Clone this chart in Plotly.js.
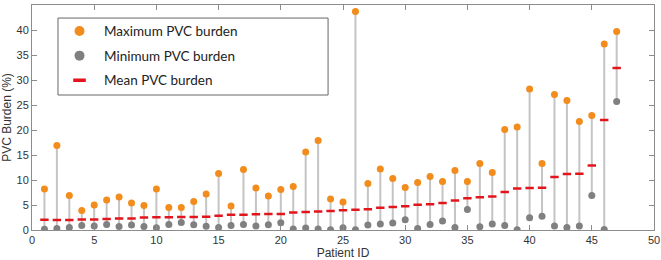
<!DOCTYPE html>
<html>
<head>
<meta charset="utf-8">
<script src="https://cdn.plot.ly/plotly-3.0.1.min.js"></script>
<style>html,body{margin:0;padding:0;background:#fff;}#chart{width:661px;height:260px;}</style>
</head>
<body>
<div id="chart"></div>
<script>
const patientIds = [1,2,3,4,5,6,7,8,9,10,11,12,13,14,15,16,17,18,19,20,21,22,23,24,25,26,27,28,29,30,31,32,33,34,35,36,37,38,39,40,41,42,43,44,45,46,47];
const maxBurden = [8.2,16.9,6.9,3.9,5.0,6.0,6.6,5.4,4.9,8.2, 4.5,4.5,5.7,7.2,11.3,4.8,12.1,8.4,6.8,8.1, 8.7,15.6,17.9,6.2,5.6,43.7,9.3,12.2,10.3,8.5, 9.5,10.7,9.7,11.9,9.7,13.3,11.5,20.1,20.6,28.2, 13.3,27.1,25.9,21.7,22.9,37.2,39.7];
const minBurden = [0.15,0.3,0.5,0.9,0.8,1.1,0.7,1.0,0.7,0.45, 1.1,1.5,1.05,0.75,0.5,0.9,1.1,0.8,1.05,1.45, 0.2,0.4,0.2,0.05,0.45,0.05,1.0,1.2,1.4,2.05, 0.3,1.1,1.8,0.5,4.1,0.65,1.2,0.9,0.05,2.45, 2.75,0.8,0.5,0.8,6.9,0.1,25.7];
const meanBurden = [2.05,2.0,2.0,2.1,2.1,2.2,2.3,2.3,2.5,2.55, 2.55,2.6,2.6,2.65,2.85,3.05,3.05,3.15,3.2,3.2, 3.5,3.6,3.7,3.8,3.95,4.05,4.15,4.45,4.6,4.75, 5.05,5.15,5.4,5.9,6.35,6.55,6.7,7.6,8.3,8.4, 8.45,10.6,11.2,11.25,12.9,22.0,32.4];
const seriesNames = ['Maximum PVC burden','Minimum PVC burden','Mean PVC burden'];

const stemX = [], stemY = [];
patientIds.forEach((id, i) => { stemX.push(id, id, null); stemY.push(minBurden[i], maxBurden[i], null); });

const orange = '#f28c1c', gray = '#808080', red = '#e3141b';
const traces = [
  {x: stemX, y: stemY, mode: 'lines', line: {color: '#c4c4c4', width: 2}, showlegend: false, hoverinfo: 'skip'},
  {x: patientIds, y: maxBurden, mode: 'markers', marker: {color: orange, size: 7}, showlegend: false},
  {x: patientIds, y: minBurden, mode: 'markers', marker: {color: gray, size: 7}, showlegend: false},
  {x: patientIds, y: meanBurden, mode: 'markers', marker: {symbol: 'line-ew', size: 6, color: red, line: {color: red, width: 2.5}}, showlegend: false},
  {x: [null], y: [null], mode: 'markers', name: seriesNames[0], legendgroup: 'a', marker: {color: orange, size: 10}},
  {x: [null], y: [null], mode: 'markers', name: seriesNames[1], legendgroup: 'b', marker: {color: gray, size: 10}},
  {x: [null], y: [null], mode: 'markers', name: seriesNames[2], legendgroup: 'c', marker: {symbol: 'line-ew', size: 9, color: red, line: {color: red, width: 3.5}}}
];

const axisCommon = {showline: true, mirror: 'ticks', linecolor: '#8c8c8c', linewidth: 1, ticks: 'inside', ticklen: 5, tickcolor: '#8c8c8c', showgrid: false, zeroline: false, tickfont: {family: 'Liberation Sans, Arial, sans-serif', size: 11, color: '#333'}};
const layout = {
  width: 661, height: 260,
  margin: {l: 32, r: 7, t: 5, b: 30},
  paper_bgcolor: '#fff', plot_bgcolor: '#fff',
  xaxis: Object.assign({}, axisCommon, {range: [0, 50], dtick: 5, tick0: 0, title: {text: 'Patient ID', standoff: 4, font: {family: 'Liberation Sans, Arial, sans-serif', size: 12, color: '#333'}}}),
  yaxis: Object.assign({}, axisCommon, {range: [0, 45], dtick: 5, tick0: 0, title: {text: 'PVC Burden (%)', standoff: 4, font: {family: 'Liberation Sans, Arial, sans-serif', size: 12, color: '#333'}}}),
  legend: {x: 0.037, y: 0.952, xanchor: 'left', yanchor: 'top', bgcolor: 'rgba(0,0,0,0)', borderwidth: 0, traceorder: 'grouped', tracegroupgap: 4, itemwidth: 39, font: {family: 'Lato, sans-serif', size: 13.5, color: '#222'}},
  shapes: [{type: 'rect', xref: 'paper', yref: 'paper', x0: 0.0418, x1: 0.476, y0: 0.6, y1: 0.942, line: {color: '#666', width: 1}, fillcolor: 'rgba(0,0,0,0)'}],
  showlegend: true
};
Plotly.newPlot('chart', traces, layout, {displayModeBar: false, staticPlot: true});
</script>
</body>
</html>
